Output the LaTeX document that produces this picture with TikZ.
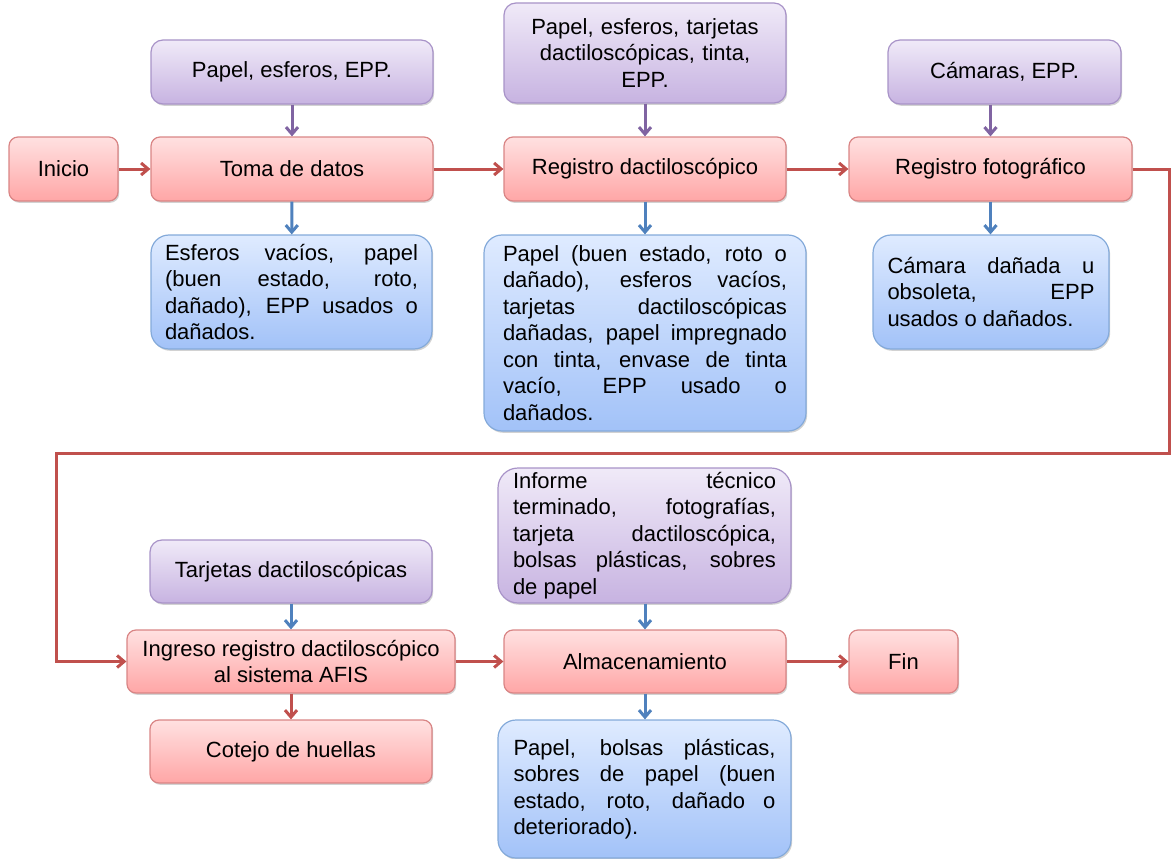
\documentclass[tikz,border=0pt]{standalone}
\usepackage{fontspec}
\setmainfont{Liberation Sans}
\usetikzlibrary{shadows,arrows.meta}

\definecolor{procTop}{HTML}{FFE1E1}
\definecolor{procBot}{HTML}{FFA6A6}
\definecolor{procBorder}{HTML}{D98585}
\definecolor{inTop}{HTML}{F0EAF8}
\definecolor{inBot}{HTML}{C7B3E1}
\definecolor{inBorder}{HTML}{A893C8}
\definecolor{outTop}{HTML}{DFEBFF}
\definecolor{outBot}{HTML}{A2C2F8}
\definecolor{outBorder}{HTML}{84AADA}
\definecolor{flowRed}{HTML}{C0504D}
\definecolor{flowPurple}{HTML}{8064A2}
\definecolor{flowBlue}{HTML}{4F81BD}

\hbadness=10000

\begin{document}
\begin{tikzpicture}[x=1pt,y=-1pt,
  box/.style={draw, line width=1.2pt, inner sep=0pt, align=center,
    font=\fontsize{22}{26.5}\selectfont,
    drop shadow={shadow xshift=1.2pt, shadow yshift=-1.8pt, opacity=0.25, fill=black!70}},
  proc/.style={box, rounded corners=9pt, draw=procBorder, top color=procTop, bottom color=procBot},
  inbox/.style={box, rounded corners=12pt, draw=inBorder, top color=inTop, bottom color=inBot},
  outbox/.style={box, rounded corners=18pt, draw=outBorder, top color=outTop, bottom color=outBot,
    align=justify, execute at begin node={\noindent}},
  flowtip/.style={-{Straight Barb[length=7pt,width=12pt]}},
  redflow/.style={draw=flowRed, line width=3pt, flowtip},
  purpleflow/.style={draw=flowPurple, line width=3pt, flowtip},
  blueflow/.style={draw=flowBlue, line width=3pt, flowtip}
]
\useasboundingbox (0,0) rectangle (1171,859);

% main process row 1
\node[proc, minimum width=109pt, minimum height=64pt] (inicio) at (63.5,169) {Inicio};
\node[proc, minimum width=282pt, minimum height=64pt] (toma) at (292,169) {Toma de datos};
\node[proc, minimum width=282pt, minimum height=64pt] (regd) at (645,169) {Registro dactiloscópico};
\node[proc, minimum width=283pt, minimum height=64pt] (regf) at (990.5,169) {Registro fotográfico};

% inputs row 1
\node[inbox, minimum width=282pt, minimum height=64pt] (in1) at (292,72) {Papel, esferos, EPP.};
\node[inbox, minimum width=282pt, minimum height=100pt, text width=262pt] (in2) at (645,53)
  {Papel, esferos, tarjetas\\dactiloscópicas, tinta,\\EPP.};
\node[inbox, minimum width=233pt, minimum height=64pt] (in3) at (1004.5,72) {Cámaras, EPP.};

% outputs row 1
\node[outbox, minimum width=281pt, minimum height=114pt, text width=253pt] (out1) at (291.5,292)
  {Esferos vacíos, papel\linebreak (buen estado, roto,\linebreak dañado), EPP usados o\linebreak dañados.};
\node[outbox, minimum width=322pt, minimum height=196pt, text width=284pt] (out2) at (645,333)
  {Papel (buen estado, roto o\linebreak dañado), esferos vacíos,\linebreak tarjetas dactiloscópicas\linebreak dañadas, papel impregnado\linebreak con tinta, envase de tinta\linebreak vacío, EPP usado o\linebreak dañados.};
\node[outbox, minimum width=236pt, minimum height=114pt, text width=207pt] (out3) at (991,292)
  {Cámara dañada u\linebreak obsoleta, EPP\linebreak usados o dañados.};

% main process row 2
\node[proc, minimum width=328pt, minimum height=63pt] (ingreso) at (291,661.5)
  {Ingreso registro dactiloscópico\\al sistema AFIS};
\node[proc, minimum width=282pt, minimum height=63pt] (cotejo) at (291,751.5) {Cotejo de huellas};
\node[proc, minimum width=282pt, minimum height=63pt] (alm) at (645,661.5) {Almacenamiento};
\node[proc, minimum width=109pt, minimum height=63pt] (fin) at (903.5,661.5) {Fin};

% inputs row 2
\node[inbox, minimum width=282pt, minimum height=63pt] (in4) at (291,571.5) {Tarjetas dactiloscópicas};
\node[inbox, rounded corners=20pt, minimum width=293pt, minimum height=135pt, text width=263pt,
  align=justify, execute at begin node={\noindent}] (in5) at (644.5,535.5)
  {Informe técnico\linebreak terminado, fotografías,\linebreak tarjeta dactiloscópica,\linebreak bolsas plásticas, sobres\linebreak de papel};

% output row 2
\node[outbox, minimum width=293pt, minimum height=138pt, text width=262pt] (out4) at (644.5,789)
  {Papel, bolsas plásticas,\linebreak sobres de papel (buen\linebreak estado, roto, dañado o\linebreak deteriorado).};

% return path between the two rows
\coordinate (turnA) at (1169,453);
\coordinate (turnB) at (56,453);

% process flow
\draw[redflow] (inicio) -- (toma);
\draw[redflow] (toma) -- (regd);
\draw[redflow] (regd) -- (regf);
\draw[redflow] (regf.east) -| (turnA) -- (turnB) |- (ingreso.west);
\draw[redflow] (ingreso) -- (alm);
\draw[redflow] (alm) -- (fin);
\draw[redflow] (ingreso) -- (cotejo);

% inputs
\draw[purpleflow] (in1) -- (toma);
\draw[purpleflow] (in2) -- (regd);
\draw[purpleflow] (in3.south -| regf.north) -- (regf.north);
\draw[blueflow] (in4) -- (ingreso);
\draw[blueflow] (in5.south -| alm.north) -- (alm.north);

% outputs
\draw[blueflow] (toma) -- (out1);
\draw[blueflow] (regd) -- (out2);
\draw[blueflow] (regf.south) -- (regf.south |- out3.north);
\draw[blueflow] (alm.south) -- (alm.south |- out4.north);
\end{tikzpicture}
\end{document}
